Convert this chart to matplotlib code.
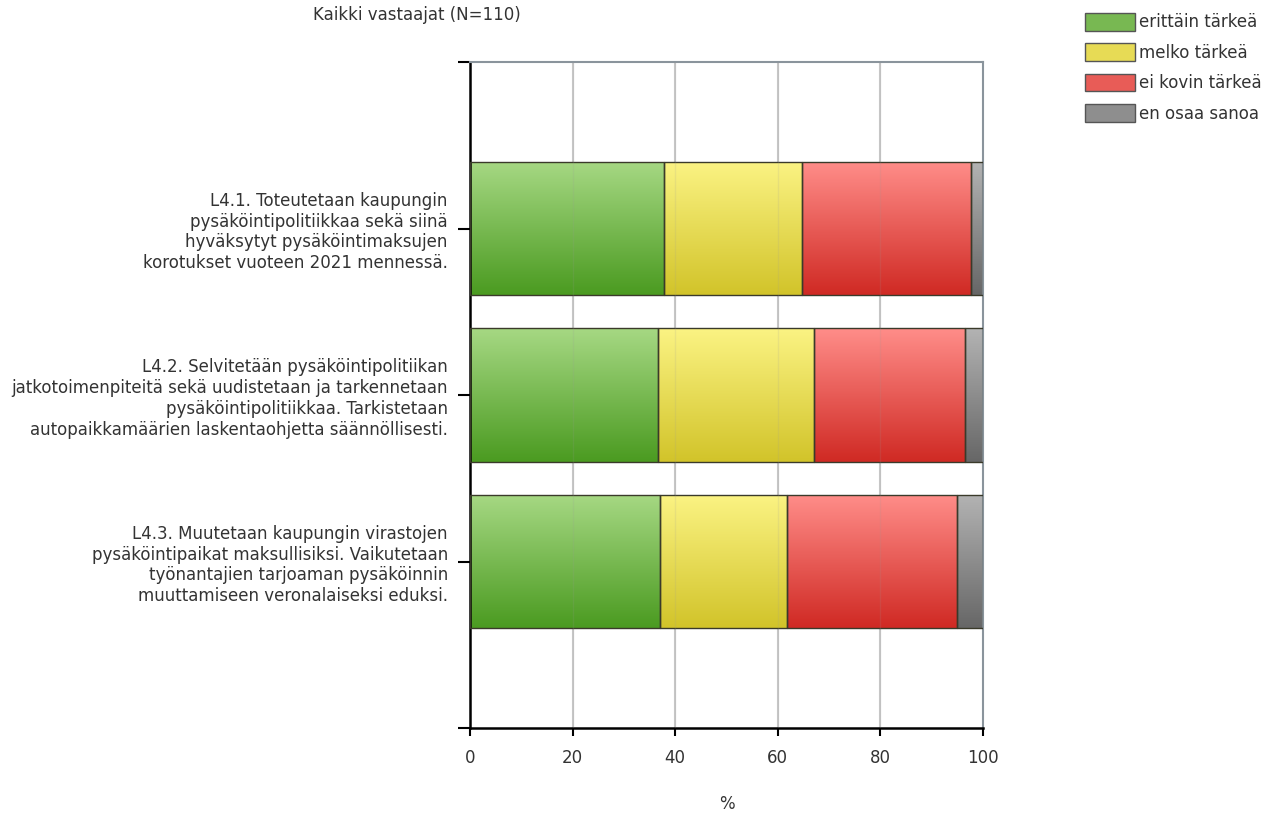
import numpy as np
import matplotlib.pyplot as plt
from matplotlib.colors import LinearSegmentedColormap
from matplotlib.patches import Patch

# values (% of answers)
questions = ["L4.1. Toteutetaan kaupungin\npysäköintipolitiikkaa sekä siinä\nhyväksytyt pysäköintimaksujen\nkorotukset vuoteen 2021 mennessä.",
             "L4.2. Selvitetään pysäköintipolitiikan\njatkotoimenpiteitä sekä uudistetaan ja tarkennetaan\npysäköintipolitiikkaa. Tarkistetaan\nautopaikkamäärien laskentaohjetta säännöllisesti.",
             "L4.3. Muutetaan kaupungin virastojen\npysäköintipaikat maksullisiksi. Vaikutetaan\ntyönantajien tarjoaman pysäköinnin\nmuuttamiseen veronalaiseksi eduksi."]
labels = ["erittäin tärkeä", "melko tärkeä", "ei kovin tärkeä", "en osaa sanoa"]
erittain = [37.9, 36.6, 37.0]
melko = [26.8, 30.4, 24.8]
ei_kovin = [33.0, 29.4, 33.1]
en_osaa = [2.3, 3.6, 5.1]

# light top -> dark bottom for each category
grads = [("#a6d883", "#4b9b21"), ("#fbf383", "#d2c42a"),
         ("#ff8d89", "#d02a24"), ("#b3b3b3", "#676767")]
mids = ["#78b852", "#e7db55", "#e85c57", "#8e8e8e"]

plt.rcParams['font.family'] = ['DejaVu Sans']
txt = "#333333"
fs = 12

fig = plt.figure(figsize=(12.79, 8.15), dpi=100)
ax = fig.add_axes([0.3675, 0.1067, 0.4011, 0.8172])

ypos = np.array([3, 2, 1])
series = [erittain, melko, ei_kovin, en_osaa]
left = np.zeros(3)
for vals, (c1, c2) in zip(series, grads):
    bars = ax.barh(ypos, vals, left=left, height=0.8, facecolor="none",
                   edgecolor="#3a3a2a", linewidth=1.0, zorder=3)
    cmap = LinearSegmentedColormap.from_list("g", [c1, c2])
    for b in bars:
        x0, y0 = b.get_x(), b.get_y()
        w, h = b.get_width(), b.get_height()
        im = ax.imshow(np.linspace(0, 1, 100).reshape(-1, 1), cmap=cmap,
                       extent=[x0, x0 + w, y0, y0 + h], aspect="auto",
                       origin="upper", zorder=2, interpolation="bilinear")
        im.set_clip_path(b)
    left = left + np.array(vals)

for gx in [20, 40, 60, 80]:
    ax.axvline(gx, color="#c8c8c8", linewidth=1.5, zorder=1)
    ax.axvline(gx, color="#999999", linewidth=1.0, alpha=0.15, zorder=4)

ax.set_xlim(0, 100)
ax.set_ylim(0, 4)
ax.set_xticks([0, 20, 40, 60, 80, 100])
ax.set_yticks([0, 1, 2, 3, 4])
ax.set_yticklabels(["", questions[2], questions[1], questions[0], ""],
                   fontsize=fs, color=txt, linespacing=1.2)
ax.tick_params(axis="x", labelsize=fs, labelcolor=txt, length=6, width=1.5, pad=9)
ax.tick_params(axis="y", length=9, width=1.5, pad=7)
ax.spines["left"].set_linewidth(1.8)
ax.spines["bottom"].set_linewidth(1.8)
ax.spines["top"].set_color("#8a949c")
ax.spines["right"].set_color("#8a949c")
ax.spines["top"].set_linewidth(1.5)
ax.spines["right"].set_linewidth(1.5)
ax.set_xlabel("%", fontsize=fs, color=txt, labelpad=20)

fig.text(313 / 1279, 1 - 15 / 815, "Kaikki vastaajat (N=110)", fontsize=fs,
         color=txt, ha="left", va="center")

handles = [Patch(facecolor=m, edgecolor="#555555", linewidth=1.0) for m in mids]
fig.legend(handles, labels, loc="upper left", bbox_to_anchor=(1070 / 1279, 1 + 2 / 815),
           frameon=False, fontsize=fs, labelcolor=txt, handlelength=3.0,
           handleheight=1.25, handletextpad=0.25, labelspacing=0.72)

fig.savefig("out.png", dpi=100)
